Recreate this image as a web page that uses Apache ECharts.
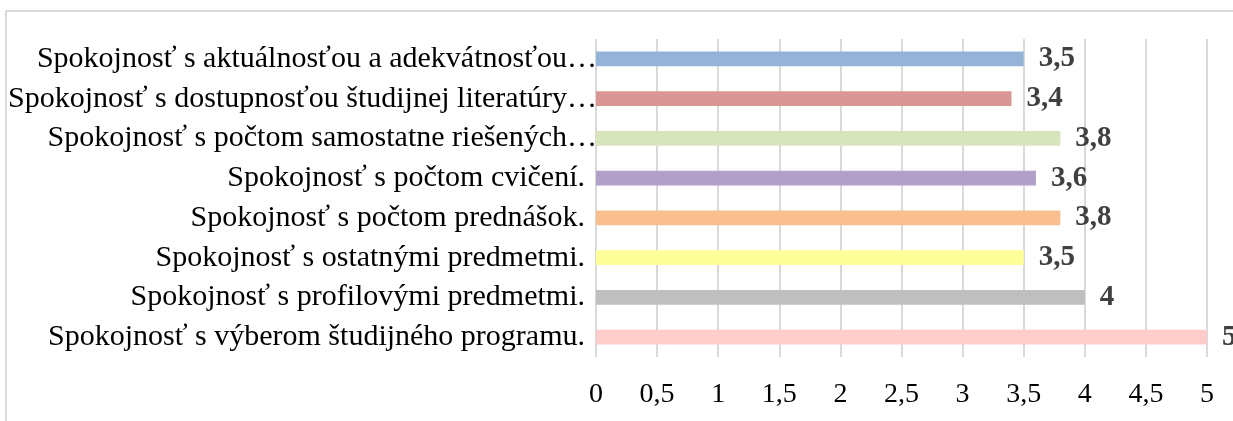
<!DOCTYPE html>
<html>
<head>
<meta charset="utf-8">
<script src="https://cdn.jsdelivr.net/npm/echarts@6/dist/echarts.min.js"></script>
<style>
html,body{margin:0;padding:0;background:#fff;}
#chart{width:1233px;height:421px;}
</style>
</head>
<body>
<div id="chart"></div>
<script>
// Data (top to bottom as shown)
const categories = [
  "Spokojnosť s aktuálnosťou a adekvátnosťou…",
  "Spokojnosť s dostupnosťou študijnej literatúry…",
  "Spokojnosť s počtom samostatne riešených…",
  "Spokojnosť s počtom cvičení.",
  "Spokojnosť s počtom prednášok.",
  "Spokojnosť s ostatnými predmetmi.",
  "Spokojnosť s profilovými predmetmi.",
  "Spokojnosť s výberom študijného programu."
];
const values = [3.5, 3.4, 3.8, 3.6, 3.8, 3.5, 4, 5];
const valueLabels = ["3,5", "3,4", "3,8", "3,6", "3,8", "3,5", "4", "5"];
const tickLabels = ["0", "0,5", "1", "1,5", "2", "2,5", "3", "3,5", "4", "4,5", "5"];
const barColors = ["#95B3D7", "#DA9694", "#D8E4BC", "#B1A0C7", "#FABF8F", "#FFFF99", "#BFBFBF", "#FFCCCC"];
const truncated = [true, true, true, false, false, false, false, false];

const FONT = '"Liberation Serif", "Times New Roman", serif';
const chart = echarts.init(document.getElementById('chart'), null, {renderer: 'canvas'});

chart.setOption({
  animation: false,
  backgroundColor: '#ffffff',
  graphic: [{
    type: 'rect',
    shape: {x: 6, y: 11, width: 1400, height: 600},
    style: {fill: 'none', stroke: '#d9d9d9', lineWidth: 2},
    silent: true
  }],
  grid: {left: 596, right: 26, top: 39, bottom: 64, containLabel: false},
  xAxis: {
    type: 'value',
    min: 0, max: 5, interval: 0.5,
    axisLine: {show: false},
    axisTick: {show: false},
    splitLine: {show: true, lineStyle: {color: '#d9d9d9', width: 2}},
    axisLabel: {
      color: '#000',
      fontFamily: FONT,
      fontSize: 28,
      margin: 24,
      formatter: function (v) { return tickLabels[Math.round(v / 0.5)]; }
    }
  },
  yAxis: {
    type: 'category',
    data: categories,
    inverse: true,
    axisLine: {show: false},
    axisTick: {show: false},
    splitLine: {show: false},
    axisLabel: {
      color: '#000',
      fontFamily: FONT,
      fontSize: 30,
      margin: -1,
      formatter: function (v, i) {
        return truncated[i] ? '{t|' + v + '}' : '{n|' + v + '}';
      },
      rich: {
        t: {color: '#000', fontFamily: FONT, fontSize: 30},
        n: {color: '#000', fontFamily: FONT, fontSize: 30, padding: [0, 12, 0, 0]}
      }
    }
  },
  series: [{
    type: 'bar',
    data: values.map(function (v, i) {
      return {value: v, itemStyle: {color: barColors[i]}};
    }),
    barWidth: '36.5%',
    label: {
      show: true,
      position: 'right',
      distance: 15,
      color: '#404040',
      fontFamily: FONT,
      fontWeight: 'bold',
      fontSize: 29,
      formatter: function (p) { return valueLabels[p.dataIndex]; }
    }
  }]
});
</script>
</body>
</html>
